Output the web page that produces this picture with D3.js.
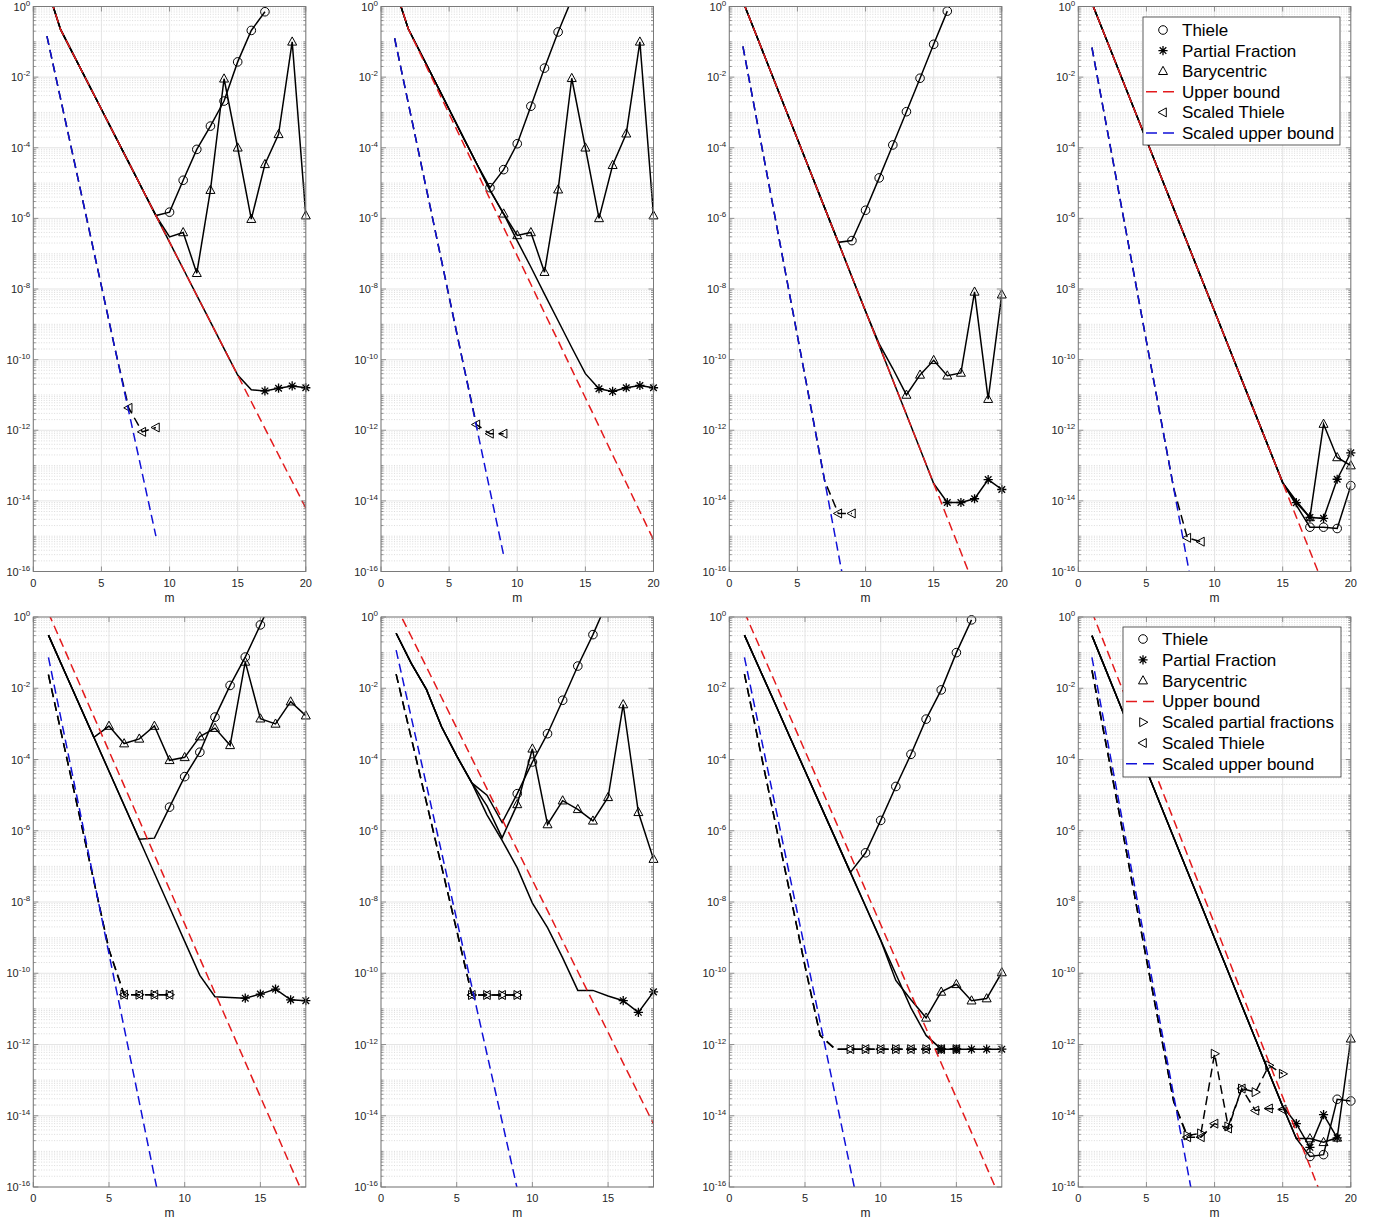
<!DOCTYPE html>
<html><head><meta charset="utf-8">
<script src="https://cdn.jsdelivr.net/npm/d3@7"></script>
<style>
body{margin:0;background:#fff}
svg{display:block}
text{font-family:"Liberation Sans",Arial,Helvetica,sans-serif}
</style>
</head><body>
<svg id="c" width="1379" height="1222"></svg>
<script>
// ---------- categories / ticks ----------
const M20 = [1,2,3,4,5,6,7,8,9,10,11,12,13,14,15,16,17,18,19,20];
const M18 = [1,2,3,4,5,6,7,8,9,10,11,12,13,14,15,16,17,18];
const XT20 = [0,5,10,15,20];
const XT18 = [0,5,10,15];
const YEXP = [0,-2,-4,-6,-8,-10,-12,-14,-16];
const LEGEND_A = ["Thiele","Partial Fraction","Barycentric","Upper bound","Scaled Thiele","Scaled upper bound"];
const LEGEND_B = ["Thiele","Partial Fraction","Barycentric","Upper bound","Scaled partial fractions","Scaled Thiele","Scaled upper bound"];

// ---------- panel 1 ----------
const p1_red = [3.5,0.224,0.0395,6.98e-3,1.23e-3,2.18e-4,3.85e-5,6.8e-6,1.2e-6,2.12e-7,3.74e-8,6.6e-9,1.17e-9,2.06e-10,3.64e-11,6.4e-12,1.13e-12,2.0e-13,3.54e-14,6.25e-15];
const p1_thiele = [3.5,0.224,0.0395,6.98e-3,1.23e-3,2.18e-4,3.85e-5,6.8e-6,1.2e-6,1.5e-6,1.2e-5,9e-5,4.1e-4,2.1e-3,2.7e-2,0.21,0.71];
const p1_thiele_mk = [10,17];
const p1_pf = [3.5,0.224,0.0395,6.98e-3,1.23e-3,2.18e-4,3.85e-5,6.8e-6,1.2e-6,2.12e-7,3.74e-8,6.6e-9,1.17e-9,2.06e-10,3.64e-11,1.4e-11,1.3e-11,1.55e-11,1.8e-11,1.6e-11];
const p1_pf_mk = [17,20];
const p1_bary = [3.5,0.224,0.0395,6.98e-3,1.23e-3,2.18e-4,3.85e-5,6.8e-6,1.2e-6,3.0e-7,4e-7,2.8e-8,6.3e-6,9e-3,1e-4,9.5e-7,3.4e-5,2.4e-4,0.1,1.2e-6];
const p1_bary_mk = [11,20];
const p1_blue = [0.145,2.45e-3,4.2e-5,7.1e-7,1.2e-8,2.0e-10,3.5e-12,5.9e-14,1.0e-15];
const p1_sthiele = [0.145,2.45e-3,4.2e-5,7.1e-7,1.2e-8,2.0e-10,4.3e-12,9e-13,1.2e-12];
const p1_sthiele_mk = [7,9];

// ---------- panel 2 ----------
const p2_red = [3.8,0.234,0.0368,5.8e-3,9.1e-4,1.43e-4,2.24e-5,3.5e-6,5.5e-7,8.7e-8,1.36e-8,2.1e-9,3.4e-10,5.3e-11,8.3e-12,1.3e-12,2.0e-13,3.2e-14,5.0e-15,7.9e-16];
const p2_thiele = [3.5,0.234,0.041,7.1e-3,1.23e-3,2.1e-4,3.7e-5,7.4e-6,2.4e-5,1.3e-4,1.5e-3,0.018,0.19,1.6];
const p2_thiele_mk = [8,14];
const p2_pf = [3.5,0.234,0.041,7.1e-3,1.23e-3,2.1e-4,3.7e-5,6.3e-6,1.35e-6,2.3e-7,4.2e-8,7.2e-9,1.26e-9,2.2e-10,4e-11,1.5e-11,1.26e-11,1.6e-11,1.85e-11,1.6e-11];
const p2_pf_mk = [16,20];
const p2_bary = [3.5,0.234,0.041,7.1e-3,1.23e-3,2.1e-4,3.7e-5,6.3e-6,1.35e-6,3.3e-7,4e-7,3e-8,6.5e-6,9.3e-3,1e-4,1e-6,3.2e-5,2.5e-4,0.1,1.2e-6];
const p2_bary_mk = [9,20];
const p2_blue = [0.126,1.86e-3,2.75e-5,4.1e-7,6.0e-9,8.9e-11,1.32e-12,1.95e-14,2.9e-16];
const p2_sthiele = [0.126,1.86e-3,2.75e-5,4.1e-7,6.0e-9,8.9e-11,1.45e-12,8e-13,8e-13];
const p2_sthiele_mk = [7,9];

// ---------- panel 3 ----------
const p3_red = [1.4,0.148,0.0157,1.66e-3,1.76e-4,1.87e-5,1.98e-6,2.1e-7,2.2e-8,2.35e-9,2.5e-10,2.64e-11,2.8e-12,2.96e-13,3.1e-14,3.3e-15,3.5e-16,3.7e-17];
const p3_thiele = [1.4,0.148,0.0157,1.66e-3,1.76e-4,1.87e-5,1.98e-6,2.1e-7,2.35e-7,1.7e-6,1.4e-5,1.2e-4,1.05e-3,9.3e-3,0.085,0.74];
const p3_thiele_mk = [9,16];
const p3_pf = [1.4,0.148,0.0157,1.66e-3,1.76e-4,1.87e-5,1.98e-6,2.1e-7,2.2e-8,2.35e-9,2.5e-10,2.64e-11,2.8e-12,2.96e-13,3.1e-14,9e-15,9e-15,1.15e-14,4e-14,2.1e-14];
const p3_pf_mk = [16,20];
const p3_bary = [1.4,0.148,0.0157,1.66e-3,1.76e-4,1.87e-5,1.98e-6,2.1e-7,2.2e-8,2.35e-9,2.8e-10,5.6e-11,1e-11,3.7e-11,9.6e-11,3.5e-11,4.2e-11,8.3e-9,7.6e-12,6.9e-9];
const p3_bary_mk = [13,20];
const p3_blue = [0.074,6.6e-4,5.9e-6,5.2e-8,4.7e-10,4.2e-12,3.7e-14,3.3e-16,2.95e-18];
const p3_sthiele = [0.074,6.6e-4,5.9e-6,5.2e-8,4.7e-10,4.2e-12,3.7e-14,4.4e-15,4.4e-15];
const p3_sthiele_mk = [8,9];

// ---------- panel 4 ----------
const p4_red = [1.25,0.134,0.0144,1.54e-3,1.65e-4,1.77e-5,1.89e-6,2.03e-7,2.17e-8,2.33e-9,2.5e-10,2.67e-11,2.86e-12,3.07e-13,3.29e-14,3.5e-15,3.8e-16,4.0e-17];
const p4_thiele = [1.25,0.134,0.0144,1.54e-3,1.65e-4,1.77e-5,1.89e-6,2.03e-7,2.17e-8,2.33e-9,2.5e-10,2.67e-11,2.86e-12,3.07e-13,3.29e-14,7.6e-15,1.8e-15,1.8e-15,1.65e-15,2.7e-14];
const p4_thiele_mk = [17,20];
const p4_pf = [1.25,0.134,0.0144,1.54e-3,1.65e-4,1.77e-5,1.89e-6,2.03e-7,2.17e-8,2.33e-9,2.5e-10,2.67e-11,2.86e-12,3.07e-13,3.29e-14,8.9e-15,3.4e-15,3.2e-15,4.1e-14,2.3e-13];
const p4_pf_mk = [16,20];
const p4_bary = [1.25,0.134,0.0144,1.54e-3,1.65e-4,1.77e-5,1.89e-6,2.03e-7,2.17e-8,2.33e-9,2.5e-10,2.67e-11,2.86e-12,3.07e-13,3.29e-14,1e-14,3.4e-15,1.5e-12,1.7e-13,1e-13];
const p4_bary_mk = [17,20];
const p4_blue = [0.069,5.75e-4,4.8e-6,4.0e-8,3.3e-10,2.75e-12,2.3e-14,1.9e-16,1.6e-18];
const p4_sthiele = [0.069,5.75e-4,4.8e-6,4.0e-8,3.3e-10,2.75e-12,2.3e-14,9e-16,7e-16];
const p4_sthiele_mk = [8,9];

// ---------- panel 5 ----------
const p5_red = [1.3,0.14,0.015,1.6e-3,1.72e-4,1.85e-5,1.98e-6,2.1e-7,2.27e-8,2.43e-9,2.6e-10,2.8e-11,3.0e-12,3.2e-13,3.4e-14,3.7e-15,3.9e-16,4.2e-17];
const p5_thiele = [0.31,0.0343,3.8e-3,4.2e-4,4.7e-5,5.2e-6,5.75e-7,6.2e-7,4.6e-6,3.3e-5,1.6e-4,1.55e-3,0.012,0.075,0.6,5];
const p5_thiele_mk = [9,16];
const p5_pf = [0.31,0.0343,3.8e-3,4.2e-4,4.7e-5,5.2e-6,5.75e-7,6.4e-8,7.1e-9,7.85e-10,8.7e-11,2.2e-11,2.1e-11,2e-11,2.6e-11,3.6e-11,1.8e-11,1.7e-11];
const p5_pf_mk = [14,18];
const p5_bary = [0.31,0.0343,3.8e-3,4.2e-4,8.7e-4,2.8e-4,3.8e-4,8.7e-4,9.5e-5,1.15e-4,4.4e-4,7.6e-4,2.5e-4,0.055,1.4e-3,1e-3,4.2e-3,1.7e-3];
const p5_bary_mk = [5,18];
const p5_blue = [0.074,6.2e-4,5.1e-6,4.3e-8,3.5e-10,2.95e-12,2.45e-14,2.0e-16,1.7e-18];
const p5_spf = [0.024,2.8e-4,3.3e-6,3.9e-8,4.6e-10,2.5e-11,2.5e-11,2.5e-11,2.5e-11];
const p5_spf_mk = [6,9];
const p5_sthiele = [0.024,2.8e-4,3.3e-6,3.9e-8,4.6e-10,2.5e-11,2.5e-11,2.5e-11,2.5e-11];
const p5_sthiele_mk = [6,9];

// ---------- panel 6 ----------
const p6_red = [2.0,0.284,0.0396,5.5e-3,7.7e-4,1.08e-4,1.5e-5,2.1e-6,2.9e-7,4.1e-8,5.7e-9,8.0e-10,1.12e-10,1.56e-11,2.2e-12,3.0e-13,4.2e-14,5.9e-15];
const p6_thiele = [0.35,0.05,9.3e-3,8.3e-4,1.26e-4,2.2e-5,1e-5,1.7e-6,1.1e-5,8.5e-5,5.3e-4,4.6e-3,0.042,0.32,3];
const p6_thiele_mk = [9,15];
const p6_pf = [0.35,0.05,9.3e-3,8.3e-4,1.26e-4,2.2e-5,2.8e-6,5.4e-7,9.1e-8,9.3e-9,1.9e-9,2.7e-10,3.3e-11,3.3e-11,2.3e-11,1.7e-11,8e-12,3e-11];
const p6_pf_mk = [16,18];
const p6_bary = [0.35,0.05,9.3e-3,8.3e-4,1.26e-4,2.2e-5,5e-6,6.3e-7,5.5e-6,2e-4,1.5e-6,7e-6,4e-6,1.9e-6,8.7e-6,3.5e-3,3.3e-6,1.6e-7];
const p6_bary_mk = [9,18];
const p6_blue = [0.1175,1.51e-3,1.95e-5,2.5e-7,3.2e-9,4.2e-11,5.4e-13,6.9e-15,8.9e-17];
const p6_spf = [0.025,4e-4,6.3e-6,1e-7,1.6e-9,2.45e-11,2.45e-11,2.45e-11,2.45e-11];
const p6_spf_mk = [6,9];
const p6_sthiele = [0.025,4e-4,6.3e-6,1e-7,1.6e-9,2.45e-11,2.45e-11,2.45e-11,2.45e-11];
const p6_sthiele_mk = [6,9];

// ---------- panel 7 ----------
const p7_red = [1.37,0.145,0.0154,1.64e-3,1.74e-4,1.85e-5,1.96e-6,2.08e-7,2.2e-8,2.34e-9,2.5e-10,2.64e-11,2.8e-12,2.98e-13,3.16e-14,3.36e-15,3.56e-16,3.8e-17];
const p7_thiele = [0.31,0.0346,3.9e-3,4.3e-4,4.85e-5,5.4e-6,6.1e-7,6.8e-8,2.4e-7,1.95e-6,1.75e-5,1.4e-4,1.36e-3,9e-3,0.1,0.83];
const p7_thiele_mk = [9,16];
const p7_pf = [0.31,0.0346,3.9e-3,4.3e-4,4.85e-5,5.4e-6,6.1e-7,6.8e-8,7.6e-9,8.5e-10,9.5e-11,1.07e-11,1.8e-12,7.4e-13,7.4e-13,7.4e-13,7.4e-13,7.4e-13];
const p7_pf_mk = [14,18];
const p7_bary = [0.31,0.0346,3.9e-3,4.3e-4,4.85e-5,5.4e-6,6.1e-7,6.8e-8,7.6e-9,8.5e-10,6.3e-11,1.8e-11,5.6e-12,3e-11,4.9e-11,1.7e-11,1.95e-11,1.05e-10];
const p7_bary_mk = [13,18];
const p7_blue = [0.074,6.6e-4,5.9e-6,5.2e-8,4.7e-10,4.2e-12,3.7e-14,3.3e-16,2.95e-18];
const p7_spf = [0.025,2.2e-4,2e-6,1.8e-8,1.6e-10,1.8e-12,7.4e-13,7.4e-13,7.4e-13,7.4e-13,7.4e-13,7.4e-13,7.4e-13,7.4e-13,7.4e-13];
const p7_spf_mk = [8,15];
const p7_sthiele = [0.025,2.2e-4,2e-6,1.8e-8,1.6e-10,1.8e-12,7.4e-13,7.4e-13,7.4e-13,7.4e-13,7.4e-13,7.4e-13,7.4e-13,7.4e-13,7.4e-13];
const p7_sthiele_mk = [8,15];

// ---------- panel 8 ----------
const p8_red = [1.4,0.149,0.0158,1.69e-3,1.8e-4,1.91e-5,2.03e-6,2.16e-7,2.3e-8,2.45e-9,2.6e-10,2.77e-11,2.95e-12,3.14e-13,3.34e-14,3.56e-15,3.8e-16,4.0e-17];
const p8_thiele = [0.30,0.0344,3.9e-3,4.4e-4,5.1e-5,5.75e-6,6.5e-7,7.4e-8,8.5e-9,9.6e-10,1.1e-10,1.25e-11,1.42e-12,1.6e-13,1.84e-14,2.3e-15,7.2e-16,8.1e-16,2.9e-14,2.6e-14];
const p8_thiele_mk = [17,20];
const p8_pf = [0.30,0.0344,3.9e-3,4.4e-4,5.1e-5,5.75e-6,6.5e-7,7.4e-8,8.5e-9,9.6e-10,1.1e-10,1.25e-11,1.42e-12,1.6e-13,1.84e-14,6e-15,1.3e-15,1.07e-14,2.4e-15];
const p8_pf_mk = [16,19];
const p8_bary = [0.30,0.0344,3.9e-3,4.4e-4,5.1e-5,5.75e-6,6.5e-7,7.4e-8,8.5e-9,9.6e-10,1.1e-10,1.25e-11,1.42e-12,1.6e-13,1.84e-14,2.3e-15,2.3e-15,1.8e-15,2.4e-15,1.45e-12];
const p8_bary_mk = [17,20];
const p8_blue = [0.074,6.6e-4,5.9e-6,5.2e-8,4.7e-10,4.2e-12,3.7e-14,3.3e-16,2.95e-18];
const p8_spf = [0.032,3.2e-4,3.2e-6,2.8e-8,2.5e-10,2.5e-12,2.5e-14,2.8e-15,3.2e-15,5.5e-13,5e-15,5.8e-14,4.6e-14,2.6e-13,1.5e-13];
const p8_spf_mk = [8,15];
const p8_sthiele = [0.032,3.2e-4,3.2e-6,2.8e-8,2.5e-10,2.5e-12,2.5e-14,2.5e-15,2.5e-15,6e-15,4.4e-15,5.8e-14,1.4e-14,1.6e-14,1.5e-14];
const p8_sthiele_mk = [8,15];

// ---------- layout ----------
const COLX = [33.3, 381, 729.3, 1078.3];
const PW = 272.5;
const ROWY = [[6.5, 571.5], [617, 1187]];
const RED = "#e31a1c", BLUE = "#1010d8";
const DASH = "9,5";

const panels = [
  {col:0,row:0,xmax:20,xt:XT20,th:[p1_thiele,p1_thiele_mk],pf:[p1_pf,p1_pf_mk],ba:[p1_bary,p1_bary_mk],red:p1_red,blue:p1_blue,sp:null,st:[p1_sthiele,p1_sthiele_mk]},
  {col:1,row:0,xmax:20,xt:XT20,th:[p2_thiele,p2_thiele_mk],pf:[p2_pf,p2_pf_mk],ba:[p2_bary,p2_bary_mk],red:p2_red,blue:p2_blue,sp:null,st:[p2_sthiele,p2_sthiele_mk]},
  {col:2,row:0,xmax:20,xt:XT20,th:[p3_thiele,p3_thiele_mk],pf:[p3_pf,p3_pf_mk],ba:[p3_bary,p3_bary_mk],red:p3_red,blue:p3_blue,sp:null,st:[p3_sthiele,p3_sthiele_mk]},
  {col:3,row:0,xmax:20,xt:XT20,th:[p4_thiele,p4_thiele_mk],pf:[p4_pf,p4_pf_mk],ba:[p4_bary,p4_bary_mk],red:p4_red,blue:p4_blue,sp:null,st:[p4_sthiele,p4_sthiele_mk],
    legend:{labels:LEGEND_A,syms:["o","*","^","red","<","blue"],box:[1143,17,1340,145],y0:30,dy:20.6,mx:1163,lx0:1146,lx1:1177,tx:1182}},
  {col:0,row:1,xmax:18,xt:XT18,th:[p5_thiele,p5_thiele_mk],pf:[p5_pf,p5_pf_mk],ba:[p5_bary,p5_bary_mk],red:p5_red,blue:p5_blue,sp:[p5_spf,p5_spf_mk],st:[p5_sthiele,p5_sthiele_mk]},
  {col:1,row:1,xmax:18,xt:XT18,th:[p6_thiele,p6_thiele_mk],pf:[p6_pf,p6_pf_mk],ba:[p6_bary,p6_bary_mk],red:p6_red,blue:p6_blue,sp:[p6_spf,p6_spf_mk],st:[p6_sthiele,p6_sthiele_mk]},
  {col:2,row:1,xmax:18,xt:XT18,th:[p7_thiele,p7_thiele_mk],pf:[p7_pf,p7_pf_mk],ba:[p7_bary,p7_bary_mk],red:p7_red,blue:p7_blue,sp:[p7_spf,p7_spf_mk],st:[p7_sthiele,p7_sthiele_mk]},
  {col:3,row:1,xmax:20,xt:XT20,th:[p8_thiele,p8_thiele_mk],pf:[p8_pf,p8_pf_mk],ba:[p8_bary,p8_bary_mk],red:p8_red,blue:p8_blue,sp:[p8_spf,p8_spf_mk],st:[p8_sthiele,p8_sthiele_mk],
    legend:{labels:LEGEND_B,syms:["o","*","^","red",">","<","blue"],box:[1123,627,1341,777],y0:639,dy:20.8,mx:1143,lx0:1126,lx1:1157,tx:1162}}
];

const svg = d3.select("#c");
const defs = svg.append("defs");

function markerPath(sym){
  if(sym==="*") return "M-4.6,0H4.6M0,-4.6V4.6M-3.3,-3.3L3.3,3.3M-3.3,3.3L3.3,-3.3";
  if(sym==="^") return "M0,-4.9L4.5,3.3L-4.5,3.3Z";
  if(sym==="<") return "M-4.9,0L3.3,-4.5L3.3,4.5Z";
  if(sym===">") return "M4.9,0L-3.3,-4.5L-3.3,4.5Z";
  return "";
}
function drawMarker(g,sym,cx,cy){
  if(sym==="o"){
    g.append("circle").attr("cx",cx).attr("cy",cy).attr("r",4.3)
      .attr("fill","none").attr("stroke","#000").attr("stroke-width",1);
  } else {
    g.append("path").attr("d",markerPath(sym)).attr("transform",`translate(${cx},${cy})`)
      .attr("fill","none").attr("stroke","#000").attr("stroke-width",sym==="*"?1.3:1);
  }
}

panels.forEach((P,pi)=>{
  const x0 = COLX[P.col], y0 = ROWY[P.row][0], y1 = ROWY[P.row][1];
  const x = d3.scaleLinear().domain([0,P.xmax]).range([x0,x0+PW]);
  const y = d3.scaleLog().domain([1e-16,1]).range([y1,y0]);
  const clipId = "clip"+pi;
  defs.append("clipPath").attr("id",clipId).append("rect")
    .attr("x",x0).attr("y",y0).attr("width",PW).attr("height",y1-y0);
  const g = svg.append("g");

  // minor grid (dotted)
  const gg = g.append("g");
  for(let e=-16;e<0;e++){
    for(let k=1;k<=9;k++){
      if(k===1 && (e%2===0)) continue;
      const v = k*Math.pow(10,e);
      gg.append("line").attr("x1",x0).attr("x2",x0+PW).attr("y1",y(v)).attr("y2",y(v))
        .attr("stroke","#c4c4c4").attr("stroke-width",0.6).attr("stroke-dasharray","1,1.6");
    }
  }
  // major grid
  YEXP.forEach(e=>{
    const yy = y(Math.pow(10,e));
    gg.append("line").attr("x1",x0).attr("x2",x0+PW).attr("y1",yy).attr("y2",yy)
      .attr("stroke","#dedede").attr("stroke-width",0.8);
  });
  P.xt.forEach(t=>{
    gg.append("line").attr("x1",x(t)).attr("x2",x(t)).attr("y1",y0).attr("y2",y1)
      .attr("stroke","#dedede").attr("stroke-width",0.8);
  });

  // series
  const line = d3.line().defined(d=>d!=null).x((d,i)=>x(i+1)).y(d=>y(d));
  function series(vals, mk, sym, color, dash){
    g.append("path").attr("d",line(vals)).attr("fill","none")
      .attr("stroke",color).attr("stroke-width",1.5)
      .attr("stroke-dasharray",dash?DASH:null)
      .attr("clip-path",`url(#${clipId})`);
    if(mk){
      vals.forEach((v,i)=>{
        const m=i+1;
        if(m>=mk[0] && m<=mk[1] && v!=null && v<=1.0001 && v>=0.9999e-16 && m<=P.xmax){
          drawMarker(g,sym,x(m),y(v));
        }
      });
    }
  }
  series(P.th[0],P.th[1],"o","#000",false);
  series(P.pf[0],P.pf[1],"*","#000",false);
  series(P.ba[0],P.ba[1],"^","#000",false);
  series(P.red,null,null,RED,true);
  if(P.sp) series(P.sp[0],P.sp[1],">","#000",true);
  series(P.st[0],P.st[1],"<","#000",true);
  series(P.blue,null,null,BLUE,true);

  // box
  g.append("rect").attr("x",x0).attr("y",y0).attr("width",PW).attr("height",y1-y0)
    .attr("fill","none").attr("stroke","#7a7a7a").attr("stroke-width",1);

  // y ticks
  for(let e=-16;e<=0;e++){
    for(let k=1;k<=9;k++){
      const v=k*Math.pow(10,e);
      if(v>1) continue;
      const major = (k===1 && e%2===0);
      const len = major?5:2.5;
      const yy=y(v);
      g.append("line").attr("x1",x0).attr("x2",x0+len).attr("y1",yy).attr("y2",yy).attr("stroke","#7a7a7a").attr("stroke-width",0.8);
      g.append("line").attr("x1",x0+PW).attr("x2",x0+PW-len).attr("y1",yy).attr("y2",yy).attr("stroke","#7a7a7a").attr("stroke-width",0.8);
    }
  }
  YEXP.forEach(e=>{
    const t = g.append("text").attr("x",x0-3).attr("y",y(Math.pow(10,e))+4)
      .attr("text-anchor","end").attr("font-size",11).attr("fill","#262626");
    t.append("tspan").text("10");
    t.append("tspan").attr("dy",-5).attr("font-size",8).text(String(e));
  });
  // x ticks
  P.xt.forEach(t=>{
    g.append("line").attr("x1",x(t)).attr("x2",x(t)).attr("y1",y1).attr("y2",y1-5).attr("stroke","#7a7a7a").attr("stroke-width",0.8);
    g.append("line").attr("x1",x(t)).attr("x2",x(t)).attr("y1",y0).attr("y2",y0+5).attr("stroke","#7a7a7a").attr("stroke-width",0.8);
    g.append("text").attr("x",x(t)).attr("y",y1+15).attr("text-anchor","middle")
      .attr("font-size",11).attr("fill","#262626").text(t);
  });
  g.append("text").attr("x",x0+PW/2).attr("y",y1+30).attr("text-anchor","middle")
    .attr("font-size",12).attr("fill","#262626").text("m");

  // legend
  if(P.legend){
    const L=P.legend;
    const lg=svg.append("g");
    lg.append("rect").attr("x",L.box[0]).attr("y",L.box[1]).attr("width",L.box[2]-L.box[0]).attr("height",L.box[3]-L.box[1])
      .attr("fill","#fff").attr("stroke","#333").attr("stroke-width",0.8);
    L.labels.forEach((lab,i)=>{
      const yy=L.y0+i*L.dy;
      const s=L.syms[i];
      if(s==="red"||s==="blue"){
        lg.append("line").attr("x1",L.lx0).attr("x2",L.lx1).attr("y1",yy).attr("y2",yy)
          .attr("stroke",s==="red"?RED:BLUE).attr("stroke-width",1.5).attr("stroke-dasharray","11,6");
      } else {
        drawMarker(lg,s,L.mx,yy);
      }
      lg.append("text").attr("x",L.tx).attr("y",yy).attr("dy","0.35em")
        .attr("font-size",17).attr("fill","#000").text(lab);
    });
  }
});
</script>
</body></html>
